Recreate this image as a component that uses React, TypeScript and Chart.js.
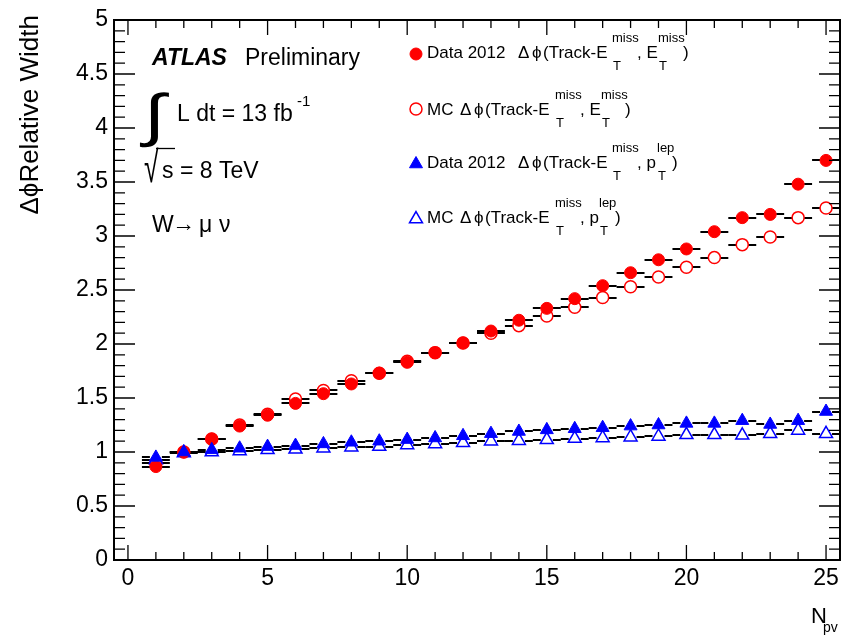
import React, { useEffect, useRef } from 'react';
import { Chart, registerables } from 'chart.js';

Chart.register(...registerables);

// ---------------- data ----------------
const nPV = [1, 2, 3, 4, 5, 6, 7, 8, 9, 10, 11, 12, 13, 14, 15, 16, 17, 18, 19, 20, 21, 22, 23, 24, 25];
const dataMetWidth = [0.865, 1.0, 1.12, 1.24, 1.34, 1.45, 1.54, 1.63, 1.73, 1.83, 1.92, 2.01, 2.12, 2.22, 2.33, 2.42, 2.54, 2.66, 2.78, 2.88, 3.04, 3.17, 3.2, 3.48, 3.7];
const mcMetWidth = [0.895, 1.0, 1.12, 1.25, 1.35, 1.49, 1.57, 1.66, 1.73, 1.84, 1.92, 2.01, 2.1, 2.17, 2.26, 2.34, 2.43, 2.53, 2.62, 2.71, 2.8, 2.92, 2.99, 3.17, 3.26];
const dataPtWidth = [0.95, 1.0, 1.02, 1.035, 1.05, 1.06, 1.075, 1.09, 1.1, 1.115, 1.13, 1.15, 1.17, 1.19, 1.205, 1.215, 1.225, 1.24, 1.25, 1.265, 1.265, 1.29, 1.255, 1.29, 1.375];
const mcPtWidth = [0.925, 0.99, 1.0, 1.01, 1.02, 1.025, 1.035, 1.045, 1.05, 1.065, 1.075, 1.085, 1.1, 1.105, 1.113, 1.125, 1.13, 1.137, 1.144, 1.159, 1.159, 1.155, 1.168, 1.2, 1.168];

const xTickValues = [0, 5, 10, 15, 20, 25];
const yTickValues = [0, 0.5, 1, 1.5, 2, 2.5, 3, 3.5, 4, 4.5, 5];
const xMin = -0.5;
const xMax = 25.5;
const yMin = 0;
const yMax = 5;
const binHalfWidth = 0.5;

const FONT = '"Liberation Sans", Arial, Helvetica, sans-serif';
const RED = '#ff0000';
const BLUE = '#0000ff';

type Part = { t?: string; at?: number; sub?: string; sup?: string };

function drawRich(ctx: CanvasRenderingContext2D, y: number, parts: Part[], size: number, scriptSize: number) {
  for (const p of parts) {
    if (p.t !== undefined) {
      ctx.font = `${size}px ${FONT}`;
      ctx.fillText(p.t, p.at as number, y);
    } else {
      ctx.font = `${scriptSize}px ${FONT}`;
      ctx.fillText(p.sup as string, p.at as number, y - 16);
      ctx.fillText(p.sub as string, (p.at as number) + 1, y + 12);
    }
  }
}

function marker(ctx: CanvasRenderingContext2D, kind: string, x: number, y: number, color: string, filled: boolean) {
  ctx.save();
  ctx.beginPath();
  if (kind === 'circle') {
    ctx.arc(x, y, 6, 0, Math.PI * 2);
  } else {
    const r = 7.5;
    for (let i = 0; i < 3; i++) {
      const a = (i * 2 * Math.PI) / 3;
      const px = x + Math.sin(a) * r;
      const py = y - Math.cos(a) * r;
      if (i === 0) ctx.moveTo(px, py);
      else ctx.lineTo(px, py);
    }
    ctx.closePath();
  }
  ctx.fillStyle = filled ? color : '#ffffff';
  ctx.fill();
  ctx.lineWidth = filled ? 1 : 1.5;
  ctx.strokeStyle = color;
  ctx.stroke();
  ctx.restore();
}

const rootPlugin = {
  id: 'rootPlugin',
  beforeDatasetsDraw(chart: any) {
    const ctx: CanvasRenderingContext2D = chart.ctx;
    const xs = chart.scales.x;
    const ys = chart.scales.y;
    ctx.save();
    ctx.strokeStyle = '#000';
    ctx.lineWidth = 2;
    chart.data.datasets.forEach((ds: any) => {
      const gap = ds.errGap || 6;
      ds.data.forEach((p: any) => {
        const px = xs.getPixelForValue(p.x);
        const py = Math.round(ys.getPixelForValue(p.y));
        const l = xs.getPixelForValue(p.x - binHalfWidth);
        const r = xs.getPixelForValue(p.x + binHalfWidth);
        ctx.beginPath();
        ctx.moveTo(l, py);
        ctx.lineTo(px - gap, py);
        ctx.moveTo(px + gap, py);
        ctx.lineTo(r, py);
        ctx.stroke();
      });
    });
    ctx.restore();
  },
  afterDraw(chart: any) {
    const ctx: CanvasRenderingContext2D = chart.ctx;
    const xs = chart.scales.x;
    const ys = chart.scales.y;
    const { left, right, top, bottom } = chart.chartArea;
    ctx.save();
    // ticks (inside frame, ROOT style)
    ctx.strokeStyle = '#000';
    ctx.lineWidth = 1.3;
    ctx.beginPath();
    for (let v = 0; v <= 25; v += 1) {
      const px = xs.getPixelForValue(v);
      const len = v % 5 === 0 ? 15 : 8;
      ctx.moveTo(px, bottom);
      ctx.lineTo(px, bottom - len);
      ctx.moveTo(px, top);
      ctx.lineTo(px, top + len);
    }
    for (let k = 0; k <= 50; k++) {
      const py = ys.getPixelForValue(k / 10);
      const len = k % 5 === 0 ? 21 : 11;
      ctx.moveTo(left, py);
      ctx.lineTo(left + len, py);
      ctx.moveTo(right, py);
      ctx.lineTo(right - len, py);
    }
    ctx.stroke();
    // frame
    ctx.lineWidth = 2;
    ctx.strokeRect(left, top, right - left, bottom - top);

    ctx.fillStyle = '#000';
    ctx.textAlign = 'left';
    ctx.textBaseline = 'alphabetic';

    // ATLAS Preliminary
    ctx.font = `italic bold 23px ${FONT}`;
    ctx.fillText('ATLAS', 152, 65);
    ctx.font = `23px ${FONT}`;
    ctx.fillText('Preliminary', 245, 65);

    // luminosity
    ctx.save();
    ctx.translate(144, 135);
    ctx.scale(1.35, 1);
    ctx.font = `58px ${FONT}`;
    ctx.fillText('∫', 0, 0);
    ctx.restore();
    ctx.font = `23px ${FONT}`;
    ctx.fillText('L dt = 13 fb', 177, 121);
    ctx.font = `15px ${FONT}`;
    ctx.fillText('-1', 297, 106);

    // sqrt s
    ctx.save();
    ctx.translate(144, 182);
    ctx.scale(0.6, 1);
    ctx.font = `44px ${FONT}`;
    ctx.fillText('√', 0, 0);
    ctx.restore();
    ctx.lineWidth = 1.3;
    ctx.beginPath();
    ctx.moveTo(156, 148.5);
    ctx.lineTo(175, 148.5);
    ctx.stroke();
    ctx.font = `23px ${FONT}`;
    ctx.fillText('s = 8 TeV', 162, 178);

    // W -> mu nu
    ctx.fillText('W', 152, 232);
    ctx.fillText('→', 172, 231);
    ctx.fillText('μ', 199, 232);
    ctx.fillText('ν', 219, 232);

    // legend
    marker(ctx, 'circle', 416, 54, RED, true);
    marker(ctx, 'circle', 416, 109, RED, false);
    marker(ctx, 'triangle', 416, 164, BLUE, true);
    marker(ctx, 'triangle', 416, 219, BLUE, false);
    ctx.fillStyle = '#000';
    const S = 17;
    const SS = 13;
    drawRich(ctx, 58, [
      { t: 'Data 2012', at: 427 }, { t: 'Δ', at: 518 }, { t: 'ϕ', at: 532 }, { t: '(Track-E', at: 543 },
      { sup: 'miss', sub: 'T', at: 612 }, { t: ', E', at: 637 }, { sup: 'miss', sub: 'T', at: 658 }, { t: ')', at: 683 },
    ], S, SS);
    drawRich(ctx, 115, [
      { t: 'MC', at: 427 }, { t: 'Δ', at: 460 }, { t: 'ϕ', at: 474 }, { t: '(Track-E', at: 485 },
      { sup: 'miss', sub: 'T', at: 555 }, { t: ', E', at: 580 }, { sup: 'miss', sub: 'T', at: 601 }, { t: ')', at: 625 },
    ], S, SS);
    drawRich(ctx, 168, [
      { t: 'Data 2012', at: 427 }, { t: 'Δ', at: 518 }, { t: 'ϕ', at: 532 }, { t: '(Track-E', at: 543 },
      { sup: 'miss', sub: 'T', at: 612 }, { t: ', p', at: 637 }, { sup: 'lep', sub: 'T', at: 657 }, { t: ')', at: 672 },
    ], S, SS);
    drawRich(ctx, 223, [
      { t: 'MC', at: 427 }, { t: 'Δ', at: 460 }, { t: 'ϕ', at: 474 }, { t: '(Track-E', at: 485 },
      { sup: 'miss', sub: 'T', at: 555 }, { t: ', p', at: 580 }, { sup: 'lep', sub: 'T', at: 599 }, { t: ')', at: 615 },
    ], S, SS);

    // y title
    ctx.save();
    ctx.translate(31, 15);
    ctx.rotate(-Math.PI / 2);
    ctx.textAlign = 'right';
    ctx.textBaseline = 'middle';
    ctx.font = `26px ${FONT}`;
    ctx.fillText('ΔϕRelative Width', 0, 0);
    ctx.restore();

    // x title
    ctx.font = `22px ${FONT}`;
    ctx.fillText('N', 811, 623);
    ctx.font = `14px ${FONT}`;
    ctx.fillText('pv', 823, 632);

    ctx.restore();
  },
};

function toPoints(vals: number[]) {
  return nPV.map((n, i) => ({ x: n, y: vals[i] }));
}

export default function App() {
  const ref = useRef<HTMLCanvasElement | null>(null);
  useEffect(() => {
    if (!ref.current) return;
    const tickFont = { family: FONT, size: 23 };
    const fmt = (v: any) => String(Number(v));
    const chart = new Chart(ref.current, {
      type: 'scatter',
      data: {
        datasets: [
          {
            label: 'Data 2012 pT',
            data: toPoints(dataPtWidth),
            pointStyle: 'triangle',
            pointRadius: 7.5,
            backgroundColor: BLUE,
            borderColor: BLUE,
            borderWidth: 1,
            order: 0,
            errGap: 6,
          } as any,
          {
            label: 'Data 2012 MET',
            data: toPoints(dataMetWidth),
            pointStyle: 'circle',
            pointRadius: 6,
            backgroundColor: RED,
            borderColor: RED,
            borderWidth: 1,
            order: 1,
            errGap: 6,
          } as any,
          {
            label: 'MC pT',
            data: toPoints(mcPtWidth),
            pointStyle: 'triangle',
            pointRadius: 7.5,
            backgroundColor: '#ffffff',
            borderColor: BLUE,
            borderWidth: 1.5,
            order: 2,
            errGap: 6,
          } as any,
          {
            label: 'MC MET',
            data: toPoints(mcMetWidth),
            pointStyle: 'circle',
            pointRadius: 6,
            backgroundColor: '#ffffff',
            borderColor: RED,
            borderWidth: 1.5,
            order: 3,
            errGap: 6,
          } as any,
        ],
      },
      options: {
        animation: false,
        responsive: false,
        devicePixelRatio: 1,
        layout: { padding: { top: 20, right: 10, left: 0, bottom: 0 } },
        plugins: { legend: { display: false }, tooltip: { enabled: false } },
        scales: {
          x: {
            type: 'linear',
            min: xMin,
            max: xMax,
            afterBuildTicks: (s: any) => {
              s.ticks = xTickValues.map((v) => ({ value: v }));
            },
            afterFit: (s: any) => {
              s.height = 79;
            },
            grid: { display: false, drawTicks: false },
            border: { display: false },
            ticks: { font: tickFont, color: '#000', padding: 5, maxRotation: 0, autoSkip: false, callback: fmt },
          },
          y: {
            type: 'linear',
            min: yMin,
            max: yMax,
            afterBuildTicks: (s: any) => {
              s.ticks = yTickValues.map((v) => ({ value: v }));
            },
            afterFit: (s: any) => {
              s.width = 114;
            },
            grid: { display: false, drawTicks: false },
            border: { display: false },
            ticks: { font: tickFont, color: '#000', padding: 6, autoSkip: false, callback: fmt },
          },
        },
      },
      plugins: [rootPlugin],
    } as any);
    return () => chart.destroy();
  }, []);
  return (
    <div style={{ position: 'absolute', left: 0, top: 0, width: 850, height: 639, background: '#fff' }}>
      <canvas ref={ref} width={850} height={639} style={{ display: 'block' }} />
    </div>
  );
}
